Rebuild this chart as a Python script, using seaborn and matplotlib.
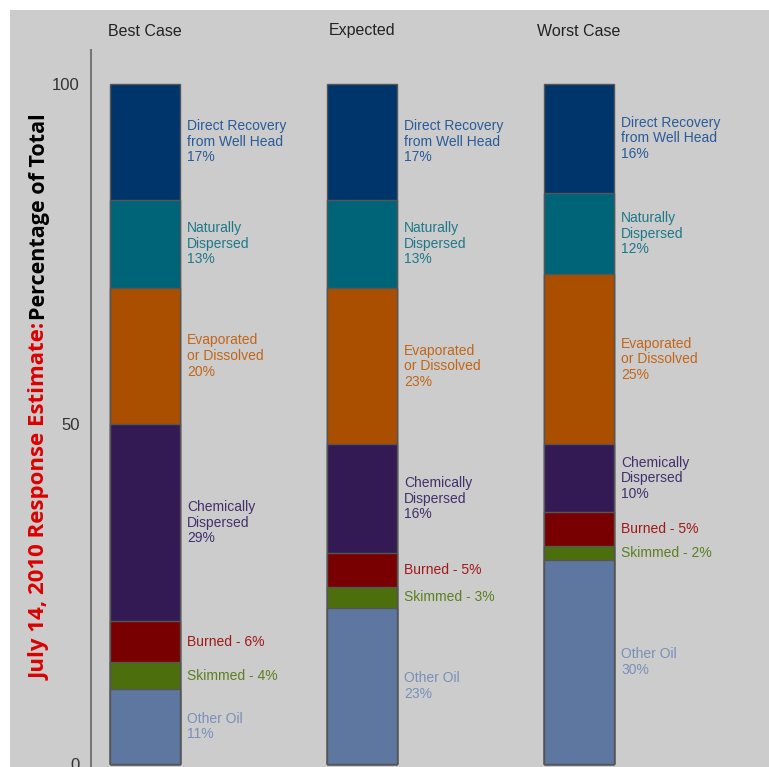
import matplotlib
matplotlib.use('Agg')
import matplotlib.pyplot as plt
import matplotlib.transforms as mtransforms
from matplotlib import font_manager
from matplotlib.patches import Rectangle
import seaborn as sns
import pandas as pd

# 数据
cases = ['Best Case', 'Expected', 'Worst Case']
# 从下往上的类别
categories = ['Other Oil', 'Skimmed', 'Burned', 'Chemically Dispersed',
              'Evaporated or Dissolved', 'Naturally Dispersed', 'Direct Recovery']
best_case = [11, 4, 6, 29, 20, 13, 17]
expected = [23, 3, 5, 16, 23, 13, 17]
worst_case = [30, 2, 5, 10, 25, 12, 16]

label_formats = ['Other Oil\n{}%', 'Skimmed - {}%', 'Burned - {}%', 'Chemically\nDispersed\n{}%',
                 'Evaporated\nor Dissolved\n{}%', 'Naturally\nDispersed\n{}%',
                 'Direct Recovery\nfrom Well Head\n{}%']
bar_colors = ['#5e77a0', '#4c6e0c', '#780000', '#341a55', '#aa4e00', '#006478', '#00356b']
text_colors = ['#7890b8', '#5a8020', '#a01818', '#41306a', '#c0661a', '#1e7888', '#2a5a98']

df = pd.DataFrame({'Best Case': best_case, 'Expected': expected, 'Worst Case': worst_case},
                  index=categories)
cum = df.cumsum()

sns.set_style('white')
plt.rcParams['font.family'] = ['Liberation Sans', 'DejaVu Sans']

fig = plt.figure(figsize=(7.69, 7.67), dpi=100)
fig.patch.set_facecolor('white')
fig.patches.append(Rectangle((10 / 769, 0), 1, 1 - 10 / 767, transform=fig.transFigure,
                             facecolor='#cccccc', edgecolor='none', zorder=-5))

ax = fig.add_axes([91 / 769, 0, (769 - 91) / 769, (767 - 50) / 767])
ax.set_facecolor('none')
ax.set_zorder(2)

bar_w = 70 / 217
# 从最高的累计值开始画，后面的覆盖前面的
for k in range(len(categories) - 1, -1, -1):
    sns.barplot(x=cases, y=cum.iloc[k].values, color=bar_colors[k], width=bar_w,
                edgecolor='#555555', linewidth=1, saturation=1, ax=ax)

# 标签
for i, case in enumerate(cases):
    for k, cat in enumerate(categories):
        top = cum.loc[cat, case]
        mid = top - df.loc[cat, case] / 2
        ax.text(i + bar_w / 2 + 7 / 217, mid, label_formats[k].format(df.loc[cat, case]),
                color=text_colors[k], fontsize=10, ha='left', va='center', linespacing=1.15)

trans = mtransforms.blended_transform_factory(ax.transData, ax.transAxes)
for i, case in enumerate(cases):
    ax.text(i, (767 - 31) / 717, case, transform=trans, ha='center', va='center',
            fontsize=11.5, color='#222222', clip_on=False)

ax.set_xlim(-54 / 217, (769 - 145) / 217)
ax.set_ylim(-0.44, 105)
ax.set_yticks([0, 50, 100])
ax.set_xticks([])
ax.set_xlabel('')
ax.set_ylabel('')
ax.tick_params(axis='y', length=5, width=1, color='#777777', labelsize=12, labelcolor='#333333', pad=3)
for s in ['top', 'right', 'bottom']:
    ax.spines[s].set_visible(False)
ax.spines['left'].set_color('#777777')
ax.spines['left'].set_linewidth(1.5)

# 纵轴标题（两种颜色）
names = [f.name for f in font_manager.fontManager.ttflist]
yfont = 'Liberation Sans Narrow' if 'Liberation Sans Narrow' in names else 'Open Sans'
fig.text(40 / 769, 1 - 680 / 767, 'July 14, 2010 Response Estimate:', rotation=90,
         ha='center', va='bottom', color='#dd0000', fontsize=16, fontweight='bold', family=yfont)
fig.text(40 / 769, 1 - 320 / 767, 'Percentage of Total', rotation=90,
         ha='center', va='bottom', color='black', fontsize=15.5, fontweight='bold', family=yfont)

fig.savefig('out.png', dpi=100)
